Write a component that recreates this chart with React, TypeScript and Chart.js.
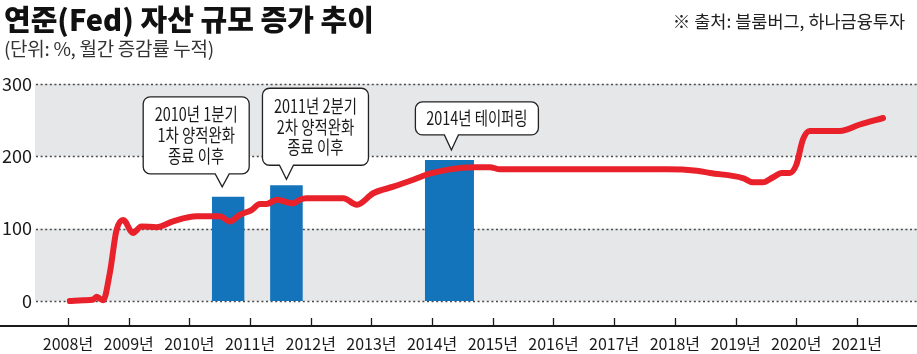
import React, { useEffect, useRef } from 'react';
import { Chart, registerables } from 'chart.js';

Chart.register(...registerables);

// ---------- data ----------
const yearTicks = [2008, 2009, 2010, 2011, 2012, 2013, 2014, 2015, 2016, 2017, 2018, 2019, 2020, 2021];
const yearLabels = ['2008년', '2009년', '2010년', '2011년', '2012년', '2013년', '2014년', '2015년', '2016년', '2017년', '2018년', '2019년', '2020년', '2021년'];
const valueTicks = [0, 100, 200, 300];

// Fed assets, cumulative monthly change (%)
const lineYears = [
  2008.03, 2008.25, 2008.42, 2008.47, 2008.53, 2008.58, 2008.69, 2008.8, 2008.91, 2009.07,
  2009.21, 2009.46, 2009.73, 2010.12, 2010.5, 2010.67, 2010.83, 2011.03, 2011.16, 2011.27,
  2011.44, 2011.71, 2011.82, 2011.93, 2012.54, 2012.76, 2013.03, 2013.36, 2013.7, 2013.96,
  2014.29, 2014.68, 2014.95, 2015.12, 2016.76, 2017.86, 2018.36, 2018.58, 2019.12, 2019.29,
  2019.45, 2019.62, 2019.76, 2019.89, 2020.0, 2020.11, 2020.22, 2020.72, 2021.05, 2021.43,
];
const lineValues = [
  0, 1, 2, 6, 3, 1, 39, 98, 112, 94,
  103, 102, 110, 117, 117, 110, 119, 126, 134, 134,
  140, 135, 140, 142, 142, 133, 149, 158, 168, 176,
  182, 185, 185, 182, 182, 182, 180, 177, 170, 164,
  164, 171, 177, 177, 188, 223, 235, 235, 244, 253,
];

// highlighted periods (bars)
const barStart = [2010.37, 2011.33, 2013.88];
const barEnd = [2010.91, 2011.87, 2014.69];
const barValues = [144, 160, 195];

// shaded value bands
const bandFrom = [0, 200];
const bandTo = [100, 300];

const calloutTexts = [
  ['2010년 1분기', '1차 양적완화', '종료 이후'],
  ['2011년 2분기', '2차 양적완화', '종료 이후'],
  ['2014년 테이퍼링'],
];

// ---------- layout / style for callouts (pixels, relative to bar top centre) ----------
const calloutLayout = [
  { tipDx: -6, tipDy: -10, left: -79, width: 106, gap: 13, height: 77 },
  { tipDx: 0, tipDy: -6, left: -24, width: 106, gap: 14, height: 77 },
  { tipDx: 2, tipDy: -10, left: -36, width: 123, gap: 15, height: 33 },
];

const CJK = '"Noto Sans CJK KR", "Noto Sans", sans-serif';

const decorPlugin = {
  id: 'decor',
  beforeDraw(chart: any) {
    const { ctx, chartArea, scales } = chart;
    const y = scales.y;
    ctx.save();
    ctx.fillStyle = '#e6e7e9';
    for (let i = 0; i < bandFrom.length; i++) {
      const top = y.getPixelForValue(bandTo[i]);
      const bot = y.getPixelForValue(bandFrom[i]);
      ctx.fillRect(chartArea.left - 1, top, chartArea.right - chartArea.left + 1, bot - top);
    }
    ctx.restore();
  },
  beforeDatasetsDraw(chart: any) {
    const { ctx, chartArea, scales } = chart;
    const y = scales.y;
    ctx.save();
    ctx.strokeStyle = '#4a4a4a';
    ctx.lineWidth = 1.6;
    ctx.setLineDash([2, 2.6]);
    for (const v of valueTicks) {
      const py = Math.round(y.getPixelForValue(v)) + 0.5;
      ctx.beginPath();
      ctx.moveTo(chartArea.left, py);
      ctx.lineTo(chartArea.right, py);
      ctx.stroke();
    }
    ctx.restore();
  },
  afterDraw(chart: any) {
    const { ctx, chartArea, scales, width } = chart;
    const x = scales.x;
    const y = scales.y;
    ctx.save();
    // axis line
    ctx.strokeStyle = '#1a1a1a';
    ctx.lineWidth = 2;
    ctx.beginPath();
    ctx.moveTo(0, chartArea.bottom);
    ctx.lineTo(width, chartArea.bottom);
    ctx.stroke();
    // tick marks (inside)
    ctx.lineWidth = 1.3;
    for (const t of yearTicks) {
      const px = Math.round(x.getPixelForValue(t)) + 0.5;
      ctx.beginPath();
      ctx.moveTo(px, chartArea.bottom - 8);
      ctx.lineTo(px, chartArea.bottom);
      ctx.stroke();
    }
    // callouts
    for (let i = 0; i < calloutTexts.length; i++) {
      const L = calloutLayout[i];
      const cx = (x.getPixelForValue(barStart[i]) + x.getPixelForValue(barEnd[i])) / 2;
      const tipX = cx + L.tipDx;
      const tipY = y.getPixelForValue(barValues[i]) + L.tipDy;
      const bottom = tipY - L.gap;
      const top = bottom - L.height;
      const left = tipX + L.left;
      const right = left + L.width;
      const r = 7;
      const hw = 7;
      ctx.beginPath();
      ctx.moveTo(left + r, top);
      ctx.lineTo(right - r, top);
      ctx.arcTo(right, top, right, top + r, r);
      ctx.lineTo(right, bottom - r);
      ctx.arcTo(right, bottom, right - r, bottom, r);
      ctx.lineTo(tipX + hw, bottom);
      ctx.lineTo(tipX, tipY);
      ctx.lineTo(tipX - hw, bottom);
      ctx.lineTo(left + r, bottom);
      ctx.arcTo(left, bottom, left, bottom - r, r);
      ctx.lineTo(left, top + r);
      ctx.arcTo(left, top, left + r, top, r);
      ctx.closePath();
      ctx.fillStyle = '#ffffff';
      ctx.fill();
      ctx.strokeStyle = '#222';
      ctx.lineWidth = 1.3;
      ctx.stroke();

      const lines = calloutTexts[i];
      const lh = 20.7;
      const midX = (left + right) / 2;
      const midY = (top + bottom) / 2;
      ctx.fillStyle = '#1a1a1a';
      ctx.font = `400 18px ${CJK}`;
      ctx.textAlign = 'center';
      ctx.textBaseline = 'middle';
      lines.forEach((ln, k) => {
        const ly = midY + (k - (lines.length - 1) / 2) * lh;
        ctx.save();
        ctx.translate(midX, ly);
        ctx.scale(0.8, 1);
        ctx.fillText(ln, 0, 0);
        ctx.restore();
      });
    }
    ctx.restore();
  },
};

export default function App() {
  const canvasRef = useRef<HTMLCanvasElement>(null);

  useEffect(() => {
    document.body.style.margin = '0';
    const canvas = canvasRef.current;
    if (!canvas) return;

    const lineData = lineYears.map((yr, i) => ({ x: yr, y: lineValues[i] }));
    const barSets = barStart.map((s, i) => ({
      type: 'line' as const,
      data: [
        { x: s, y: 0 },
        { x: s, y: barValues[i] },
        { x: barEnd[i], y: barValues[i] },
        { x: barEnd[i], y: 0 },
      ],
      borderWidth: 0,
      borderColor: 'rgba(0,0,0,0)',
      backgroundColor: '#1474bb',
      pointRadius: 0,
      tension: 0,
      fill: 'origin',
      order: 2,
    }));

    const chart = new Chart(canvas, {
      type: 'line',
      data: {
        datasets: [
          {
            data: lineData,
            borderColor: '#e8212b',
            borderWidth: 6,
            pointRadius: 0,
            cubicInterpolationMode: 'monotone',
            borderCapStyle: 'round',
            borderJoinStyle: 'round',
            fill: false,
            order: 1,
          } as any,
          ...(barSets as any[]),
        ],
      },
      options: {
        responsive: false,
        animation: false,
        events: [],
        layout: { padding: { top: 84, left: 0, right: 0, bottom: 0 } },
        plugins: {
          legend: { display: false },
          tooltip: { enabled: false },
          title: { display: false },
        },
        scales: {
          x: {
            type: 'linear',
            min: 2007.473,
            max: 2021.99,
            afterBuildTicks: (scale: any) => {
              scale.ticks = yearTicks.map((v) => ({ value: v }));
            },
            afterFit: (scale: any) => {
              scale.height = 28;
            },
            grid: { display: false, drawTicks: false },
            border: { display: false },
            ticks: {
              autoSkip: false,
              maxRotation: 0,
              padding: 8,
              color: '#1a1a1a',
              font: { family: CJK, size: 16 },
              callback: (v: any) => {
                const idx = yearTicks.indexOf(Number(v));
                return idx >= 0 ? yearLabels[idx] : '';
              },
            },
          },
          y: {
            min: -34.6,
            max: 300,
            afterBuildTicks: (scale: any) => {
              scale.ticks = valueTicks.map((v) => ({ value: v }));
            },
            afterFit: (scale: any) => {
              scale.width = 36;
            },
            grid: { display: false, drawTicks: false },
            border: { display: false },
            ticks: {
              padding: 4,
              color: '#1a1a1a',
              font: { family: CJK, size: 18 },
              callback: (v: any) => String(v),
            },
          },
        },
      },
      plugins: [decorPlugin],
    });

    return () => chart.destroy();
  }, []);

  return (
    <div style={{ position: 'fixed', left: 0, top: 0, width: 917, height: 354, background: '#fff', overflow: 'hidden' }}>
      <canvas ref={canvasRef} width={917} height={354} style={{ position: 'absolute', left: 0, top: 0, width: 917, height: 354 }} />
      <div
        style={{
          position: 'absolute', left: 4, top: 2, fontFamily: CJK, fontWeight: 900, fontSize: 29,
          lineHeight: '32px', color: '#111', letterSpacing: '0px', whiteSpace: 'nowrap',
        }}
      >
        연준(Fed) 자산 규모 증가 추이
      </div>
      <div
        style={{
          position: 'absolute', left: 4, top: 36, fontFamily: CJK, fontWeight: 400, fontSize: 19,
          lineHeight: '24px', color: '#333', whiteSpace: 'nowrap', letterSpacing: '-0.3px',
        }}
      >
        (단위: %, 월간 증감률 누적)
      </div>
      <div
        style={{
          position: 'absolute', right: 12, top: 10, fontFamily: CJK, fontWeight: 400, fontSize: 17.5,
          lineHeight: '22px', color: '#222', whiteSpace: 'nowrap', letterSpacing: '0px',
        }}
      >
        ※ 출처: 블룸버그, 하나금융투자
      </div>
    </div>
  );
}
